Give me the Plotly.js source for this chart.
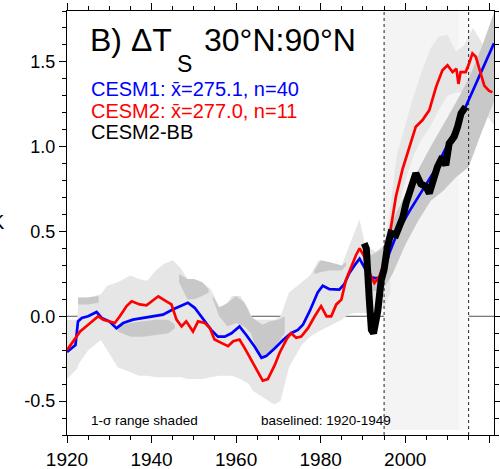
<!DOCTYPE html>
<html><head><meta charset="utf-8">
<script src="https://cdn.plot.ly/plotly-3.0.1.min.js"></script>
<style>html,body{margin:0;padding:0;overflow:hidden;background:#fff}#chart{width:510px;height:469px}</style>
</head><body><div id="chart"></div>
<script>
// CESM1 ensemble mean (blue)
const cesm1Years = [1920,1921,1922,1922.6,1923.5,1925,1927,1928.2,1930,1931.7,1933.3,1935.6,1938,1940.4,1942.7,1945,1947.5,1948.6,1950.2,1952.2,1954.1,1955.7,1957.3,1958.9,1960.8,1962.4,1964.4,1966,1967.1,1969.1,1971.1,1973,1974.6,1975.8,1977.4,1979.3,1980.5,1982.1,1984.4,1985.6,1986.8,1988,1989.2,1990.3,1991.5,1992.7,1993.9,1995,1996.2,1997.8,1999.4,2001,2003,2005,2007,2009,2011,2013,2014.3,2016,2018,2020,2021];
const cesm1Vals  = [-0.21,-0.19,-0.17,-0.03,-0.01,0.0,0.025,-0.01,-0.03,-0.07,-0.04,-0.02,-0.01,0.0,0.01,0.04,0.07,0.08,0.05,-0.02,-0.08,-0.12,-0.12,-0.10,-0.06,-0.11,-0.18,-0.245,-0.235,-0.19,-0.14,-0.10,-0.08,-0.05,0.03,0.14,0.18,0.16,0.157,0.19,0.255,0.30,0.34,0.29,0.235,0.225,0.225,0.255,0.37,0.47,0.55,0.62,0.70,0.78,0.86,0.96,1.06,1.16,1.235,1.33,1.44,1.55,1.61];
// CESM2 ensemble mean (red)
const cesm2Years = [1920,1921.9,1923.1,1925,1927.4,1928.6,1930.1,1931.3,1932.5,1934.1,1935.3,1937.2,1938.8,1940.4,1941.6,1943.5,1944.7,1945.9,1947.1,1948.2,1949.8,1951,1952.6,1953.8,1954.9,1956.5,1958.1,1959.3,1960.8,1962,1963.6,1965.1,1966.3,1967.5,1969.1,1970.3,1971.9,1973,1974.2,1975.4,1977,1978.6,1980.1,1981.4,1982.5,1983.7,1984.9,1986,1987.2,1988.4,1989.2,1990.3,1991.9,1992.7,1993.9,1995,1996.2,1997.8,1999.4,2001,2002.5,2004.1,2005.7,2007.3,2008.8,2010,2011.2,2012.1,2012.6,2013.1,2014.3,2015.1,2015.9,2016.7,2017.9,2018.7,2019.8,2020.6];
const cesm2Vals  = [-0.2,-0.137,-0.09,-0.05,0.0,-0.02,-0.03,-0.04,0.0,0.06,0.088,0.07,0.065,0.098,0.118,0.088,0.07,-0.02,-0.06,-0.03,-0.09,-0.03,-0.04,-0.07,-0.137,-0.157,-0.176,-0.147,-0.137,-0.186,-0.255,-0.32,-0.38,-0.37,-0.29,-0.215,-0.137,-0.10,-0.127,-0.12,-0.07,0.0,0.06,0.0,0.0,0.07,0.098,0.216,0.294,0.363,0.40,0.353,0.235,0.196,0.235,0.314,0.46,0.706,0.87,1.0,1.118,1.157,1.216,1.353,1.45,1.48,1.44,1.46,1.37,1.44,1.44,1.49,1.55,1.53,1.43,1.36,1.33,1.32];
// CESM2-BB (black)
const bbYears = [1990.3,1990.8,1991.5,1992,1992.5,1993,1993.5,1994.3,1995,1995.8,1996.6,1997.8,1998.6,1999.4,2000.2,2001.7,2002.5,2003.7,2004.9,2005.7,2006.5,2007.6,2008.8,2009.6,2010.4,2011.6,2012.4,2013.2,2014.3];
const bbVals  = [0.43,0.40,0.1,-0.08,-0.10,-0.05,0.03,0.21,0.275,0.41,0.49,0.48,0.53,0.58,0.667,0.765,0.843,0.78,0.765,0.725,0.80,0.88,0.94,0.89,1.02,1.06,1.118,1.196,1.235];
// 1-sigma shading, light gray patches (null separates patches)
const lightYears = [1920,1922.4,1922.8,1925,1928,1929.5,1932,1935,1937,1939,1941,1943,1945,1947,1948.5,1950,1952,1954,1956,1957.5,1959,1961,1963,1964,1969,1970.5,1972.5,1975.5,1977.5,1979.5,1985,1986.5,1988,1989.2,1990.5,1993,1995,1996.5, null,
                    1995,1996,1998,2000,2002,2004,2006,2008,2010,2012,2014,2016,2018,2020,2021];
const lightUpper = [-0.02,-0.02,0.11,0.11,0.13,0.18,0.2,0.24,0.22,0.21,0.27,0.31,0.33,0.28,0.22,0.22,0.2,0.16,0.06,0.06,0.12,0.12,0.04,-0.02,-0.02,0.0,0.14,0.2,0.24,0.33,0.3,0.4,0.5,0.57,0.42,0.38,0.42,0.52, null,
                    0.42,0.55,0.95,1.12,1.3,1.45,1.58,1.65,1.66,1.56,1.6,1.7,1.62,1.52,1.5];
const lightLower = [-0.37,-0.31,-0.28,-0.2,-0.14,-0.2,-0.3,-0.33,-0.35,-0.35,-0.36,-0.36,-0.36,-0.36,-0.37,-0.37,-0.37,-0.36,-0.35,-0.35,-0.35,-0.37,-0.4,-0.44,-0.52,-0.5,-0.3,-0.17,-0.12,-0.09,-0.02,0.01,0.02,0.02,0.02,0.03,0.05,0.14, null,
                    0.12,0.22,0.6,0.8,0.95,1.05,1.12,1.22,1.3,1.32,1.32,1.3,1.22,1.16,1.13];
// 1-sigma shading, darker gray patches (null separates patches)
const darkYears = [1922.6,1925,1927.5, null, 1932,1935,1938,1941,1944,1945.5, null, 1946.5,1948.5,1950,1952,1953.5, null, 1954.5,1956,1958,1960,1962,1963.5,1965,1966.3,1968,1970,1971.5, null, 1978.5,1980,1982,1985,1986, null, 1990.5,1992,1994.6,1997,2000,2003,2006,2009,2012,2015,2018,2021];
const darkUpper = [0.11,0.11,0.12, null, -0.06,-0.04,-0.03,-0.02,-0.02,-0.05, null, 0.25,0.22,0.22,0.2,0.16, null, 0.12,0.05,0.08,0.12,0.08,0.0,-0.03,-0.05,-0.03,-0.02,0.0, null, 0.27,0.33,0.32,0.3,0.32, null, 0.4,0.36,0.4,0.56,0.72,0.86,1.0,1.13,1.26,1.4,1.58,1.79];
const darkLower = [0.07,0.07,0.08, null, -0.09,-0.12,-0.12,-0.11,-0.1,-0.07, null, 0.2,0.1,0.1,0.12,0.14, null, 0.1,0.0,-0.06,-0.04,-0.06,-0.1,-0.2,-0.24,-0.22,-0.15,-0.1, null, 0.25,0.26,0.27,0.27,0.3, null, 0.2,0.15,0.15,0.25,0.42,0.56,0.68,0.74,0.82,0.88,1.08,1.27];
// reference elements
const zeroLine = {x:[1920,2021], y:[0,0]};
const periodLines = [1995, 2015];
const periodShade = [[1995,2012.7,'#f4f4f4'],[2012.7,2015,'#f9f9f9']];
const shadeBottom = -0.67, yTop = 1.8;

const FONT = 'Liberation Sans, Arial, Helvetica, sans-serif';
function band(xs, up, lo, color){
  return {x: xs.concat(xs.slice().reverse()), y: up.concat(lo.slice().reverse()), fill:'toself', fillcolor:color, mode:'lines', line:{width:0}, hoverinfo:'skip', showlegend:false};
}
function patches(xs, up, lo, color){
  const out = []; let cx=[], cu=[], cl=[];
  const flush = ()=>{ if(cx.length){ out.push(band(cx,cu,cl,color)); } cx=[];cu=[];cl=[]; };
  xs.forEach((x,i)=>{ if(x===null){ flush(); } else { cx.push(x); cu.push(up[i]); cl.push(lo[i]); } });
  flush();
  return out;
}
const traces = [];
traces.push({x:zeroLine.x, y:zeroLine.y, mode:'lines', line:{color:'#555', width:1}, showlegend:false});
periodShade.forEach(p=>{
  traces.push({x:[p[0],p[1],p[1],p[0]], y:[shadeBottom,shadeBottom,yTop,yTop], fill:'toself', fillcolor:p[2], mode:'lines', line:{width:0}, showlegend:false});
});
patches(lightYears, lightUpper, lightLower, '#e6e6e6').forEach(t=>traces.push(t));
patches(darkYears, darkUpper, darkLower, '#c8c8c8').forEach(t=>traces.push(t));
periodLines.forEach(v=>{
  traces.push({x:[v,v], y:[-0.7,yTop], mode:'lines', line:{color:'#222', width:1, dash:'dot'}, showlegend:false});
});
traces.push({x:cesm1Years, y:cesm1Vals, mode:'lines', line:{color:'#0000ff', width:2.7}, showlegend:false});
traces.push({x:cesm2Years, y:cesm2Vals, mode:'lines', line:{color:'#ff0000', width:2.7}, showlegend:false});
traces.push({x:bbYears, y:bbVals, mode:'lines', line:{color:'#000', width:7}, showlegend:false});

const W = 427, H = 424; // plot area px
function px(xpx){ return (xpx-67)/W; }
function py(ypx){ return 1-(ypx-11)/H; }
function ann(x, y, text, size, color){
  return {xref:'paper', yref:'paper', x:px(x), y:py(y), xanchor:'left', yanchor:'middle', showarrow:false, text:text, font:{size:size, family:FONT, color:color}};
}

const layout = {
  width:510, height:469,
  margin:{l:67, r:16, t:11, b:34},
  paper_bgcolor:'#fff', plot_bgcolor:'#fff',
  font:{family:FONT, color:'#000'},
  xaxis:{range:[1920,2021], tickvals:[1920,1940,1960,1980,2000,2020], ticks:'outside', ticklen:7, tickwidth:1, tickcolor:'#000',
    minor:{dtick:5, tick0:1920, ticklen:4, ticks:'outside', tickcolor:'#000'},
    showgrid:false, zeroline:false, showline:true, linecolor:'#000', linewidth:1, mirror:'ticks',
    tickfont:{size:19, family:FONT}},
  yaxis:{range:[-0.7,1.8], tickvals:[-0.5,0,0.5,1.0,1.5], ticktext:['-0.5','0.0','0.5','1.0','1.5'], ticks:'outside', ticklen:7, tickwidth:1, tickcolor:'#000',
    minor:{dtick:0.1, tick0:0, ticklen:4, ticks:'outside', tickcolor:'#000'},
    showgrid:false, zeroline:false, showline:true, linecolor:'#000', linewidth:1, mirror:'ticks',
    tickfont:{size:18, family:FONT}},
  annotations:[
    ann(88, 40, 'B) ΔT', 32, '#000'),
    ann(175, 64, 'S', 23, '#000'),
    ann(202, 40, '30°N:90°N', 32, '#000'),
    ann(89, 89, 'CESM1: x̄=275.1, n=40', 20, '#0000ff'),
    ann(89, 111, 'CESM2: x̄=277.0, n=11', 20, '#ff0000'),
    ann(89, 132, 'CESM2-BB', 20, '#000'),
    ann(89, 420, '1-σ range shaded', 13.5, '#000'),
    ann(259, 420, 'baselined: 1920-1949', 13.5, '#000'),
    ann(-11, 222, 'K', 20, '#000')
  ]
};
Plotly.newPlot('chart', traces, layout, {staticPlot:true, displayModeBar:false});
</script></body></html>
